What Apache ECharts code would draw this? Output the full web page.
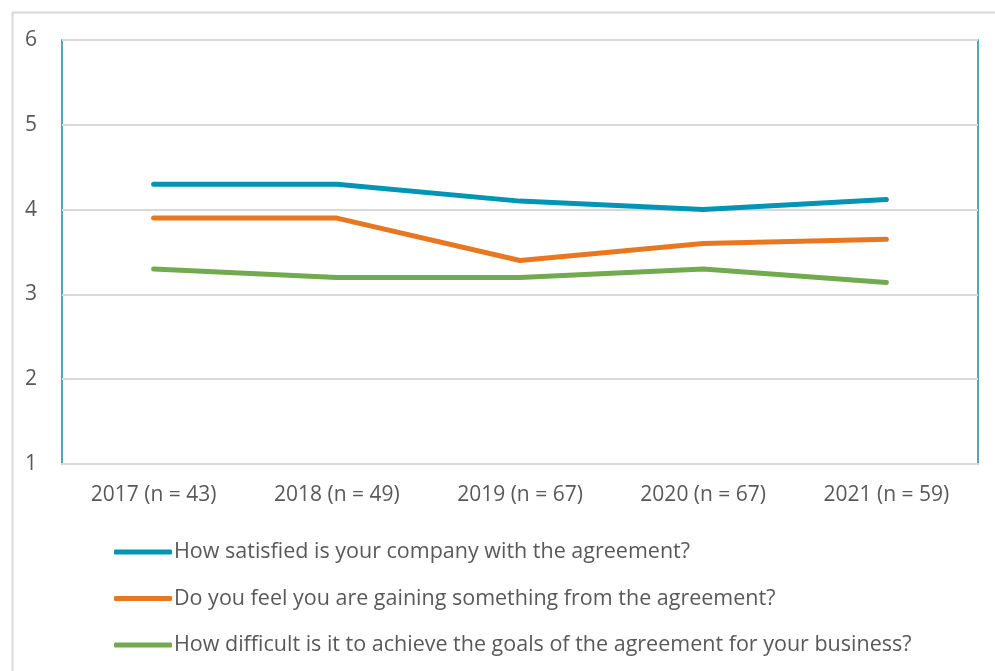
<!DOCTYPE html>
<html>
<head>
<meta charset="utf-8">
<script src="https://cdn.jsdelivr.net/npm/echarts@6/dist/echarts.min.js"></script>
<style>
  html, body { margin: 0; padding: 0; background: #fff; }
  #chart { width: 995px; height: 671px; }
</style>
</head>
<body>
<div id="chart"></div>
<script>
// Survey years with sample sizes
const categories = ['2017 (n = 43)', '2018 (n = 49)', '2019 (n = 67)', '2020 (n = 67)', '2021 (n = 59)'];

// Average scores per question
const satisfied = [4.3, 4.3, 4.1, 4.0, 4.12];
const gaining = [3.9, 3.9, 3.4, 3.6, 3.65];
const difficult = [3.3, 3.2, 3.2, 3.3, 3.14];

const seriesNames = [
  'How satisfied is your company with the agreement?',
  'Do you feel you are gaining something from the agreement?',
  'How difficult is it to achieve the goals of the agreement for your business?'
];
const seriesColors = ['#0095B4', '#E87722', '#72AA4F'];

const FONT = 'Open Sans';
const chart = echarts.init(document.getElementById('chart'), null, { renderer: 'canvas' });

function lineSeries(name, data, color) {
  return {
    name: name,
    type: 'line',
    data: data,
    symbol: 'none',
    smooth: false,
    lineStyle: { color: color, width: 5, cap: 'round', join: 'round' },
    itemStyle: { color: color },
    emphasis: { disabled: true }
  };
}

chart.setOption({
  animation: false,
  backgroundColor: '#ffffff',
  graphic: [{
    type: 'rect',
    left: 10, top: 10,
    shape: { width: 1100, height: 800 },
    style: { fill: 'none', stroke: '#d9d9d9', lineWidth: 2 },
    z: -10
  }],
  grid: {
    left: 62, top: 40, right: 17, bottom: 207,
    show: true,
    borderColor: '#1F8A9C',
    borderWidth: 1.5,
    backgroundColor: 'transparent'
  },
  legend: {
    orient: 'vertical',
    left: 109,
    top: 536,
    itemWidth: 58,
    itemHeight: 5,
    itemGap: 24.5,
    icon: 'roundRect',
    selectedMode: false,
    textStyle: { fontFamily: FONT, fontSize: 21.5, color: '#595959', padding: [0, 0, 0, -3] },
    data: seriesNames
  },
  xAxis: {
    type: 'category',
    data: categories,
    boundaryGap: true,
    axisLine: { show: true, lineStyle: { color: '#d9d9d9', width: 2 } },
    axisTick: { show: false },
    axisLabel: { fontFamily: FONT, fontSize: 21, color: '#595959', margin: 21 }
  },
  yAxis: {
    type: 'value',
    min: 1, max: 6, interval: 1,
    axisLine: { show: false },
    axisTick: { show: false },
    splitLine: { lineStyle: { color: '#d9d9d9', width: 2 } },
    axisLabel: { fontFamily: FONT, fontSize: 21, color: '#595959', margin: 25 }
  },
  series: [
    lineSeries(seriesNames[0], satisfied, seriesColors[0]),
    lineSeries(seriesNames[1], gaining, seriesColors[1]),
    lineSeries(seriesNames[2], difficult, seriesColors[2])
  ]
});
</script>
</body>
</html>
